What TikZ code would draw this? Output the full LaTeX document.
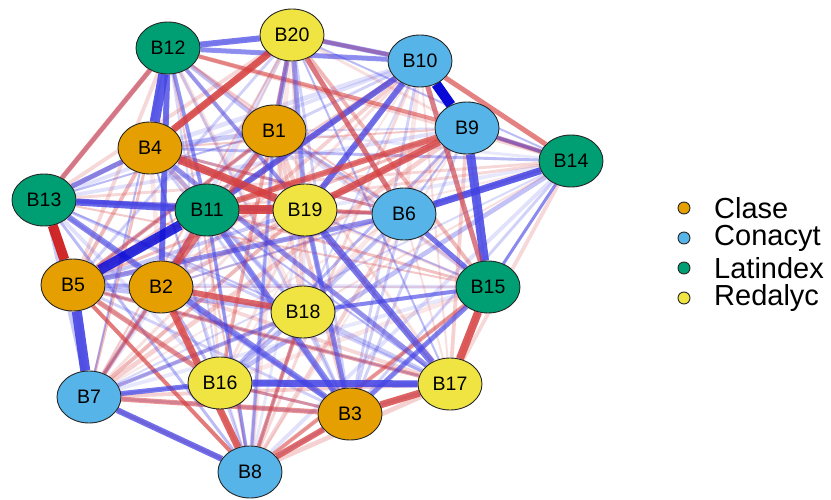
\documentclass[tikz,border=0pt]{standalone}
\usepackage{fontspec}
\setmainfont{Liberation Sans}
\usetikzlibrary{shapes.geometric,backgrounds}
\definecolor{clase}{HTML}{E69F00}
\definecolor{conacyt}{HTML}{56B4E9}
\definecolor{latindex}{HTML}{009E73}
\definecolor{redalyc}{HTML}{F0E442}
\definecolor{redE}{RGB}{214,62,62}
\definecolor{redD}{RGB}{205,30,30}
\definecolor{blueE}{RGB}{66,66,228}
\definecolor{blueD}{RGB}{10,10,215}
\tikzset{
  nd/.style={ellipse, draw=black!85, line width=0.9pt, minimum width=64pt, minimum height=52pt, inner sep=0pt, font=\fontsize{19.5}{19.5}\selectfont},
  cl/.style={nd, fill=clase},
  co/.style={nd, fill=conacyt},
  la/.style={nd, fill=latindex},
  re/.style={nd, fill=redalyc},
  lgdot/.style={circle, draw=black!85, line width=0.9pt, minimum size=12pt, inner sep=0pt},
  lgtext/.style={anchor=west, inner sep=0pt, font=\fontsize{29}{29}\selectfont},
}
\begin{document}
\begin{tikzpicture}[x=1pt,y=-1pt]
\useasboundingbox (0,0) rectangle (831,500);
% nodes
\node[la] (B12) at (168,48) {B12};
\node[re] (B20) at (292,35) {B20};
\node[co] (B10) at (420,61) {B10};
\node[cl] (B1) at (274,131) {B1};
\node[cl] (B4) at (150,148) {B4};
\node[co] (B9) at (467,128) {B9};
\node[la] (B14) at (571,161) {B14};
\node[la] (B13) at (44,200) {B13};
\node[la] (B11) at (207,210) {B11};
\node[re] (B19) at (305,210) {B19};
\node[co] (B6) at (404,214) {B6};
\node[cl] (B5) at (73,285) {B5};
\node[cl] (B2) at (161,287) {B2};
\node[re] (B18) at (303,312) {B18};
\node[la] (B15) at (488,287) {B15};
\node[re] (B16) at (220,383) {B16};
\node[re] (B17) at (450,384) {B17};
\node[co] (B7) at (89,397) {B7};
\node[cl] (B3) at (350,414) {B3};
\node[co] (B8) at (250,472) {B8};
% edges
\begin{pgfonlayer}{background}
\foreach \i in {1,...,19}{
  \pgfmathtruncatemacro{\js}{\i+1}
  \foreach \j in {\js,...,20}{
    \pgfmathtruncatemacro{\h}{mod(\i*\i*7+\j*13+\i*\j*11,23)}
    \pgfmathsetmacro{\op}{0.12+0.04*mod(\h,7)}
    \pgfmathsetmacro{\lw}{2+0.9*mod(\h,4)}
    \ifnum\h<11 \def\ec{redE}\else\def\ec{blueE}\fi
    \draw[line width=\lw pt, draw=\ec, draw opacity=\op] (B\i) -- (B\j);
  }
}
\foreach \a/\b/\c/\w/\o in {
  B12/B9/redE/4/0.45, B20/B10/redE/4/0.45, B9/B14/redE/4/0.5,
  B17/B5/redE/4/0.45, B15/B8/redE/4/0.5, B18/B8/redE/4/0.55,
  B5/B8/redE/4/0.5, B1/B5/redE/4/0.5, B7/B2/redE/4/0.5,
  B6/B19/redE/4/0.5, B3/B16/redE/3/0.45, B4/B6/redE/3/0.4,
  B7/B18/blueE/4/0.45, B14/B9/blueE/3/0.45, B14/B15/blueE/3/0.4,
  B12/B19/blueE/4/0.45, B13/B19/blueE/4/0.5, B18/B15/blueE/4/0.5,
  B8/B11/blueE/3/0.4, B8/B1/blueE/3/0.4, B12/B11/blueE/4/0.45,
  B20/B1/blueE/5/0.5, B20/B19/blueE/5/0.45, B12/B10/blueE/5/0.55,
  B20/B10/blueE/5/0.5, B13/B4/blueE/5/0.6, B13/B3/blueE/6/0.6,
  B3/B11/blueE/6/0.6, B3/B19/blueE/5/0.55, B4/B17/blueE/5/0.55,
  B15/B3/blueE/5/0.6, B6/B15/blueE/5/0.6, B5/B6/blueE/5/0.55,
  B7/B16/blueE/5/0.7, B7/B8/blueE/6/0.75, B12/B20/blueE/6/0.7,
  B10/B11/blueE/6/0.75, B10/B19/blueE/6/0.75, B19/B17/blueE/7/0.7,
  B12/B2/blueE/6/0.7, B13/B11/blueE/7/0.8, B16/B17/blueE/7/0.85,
  B14/B6/blueE/7/0.85, B9/B15/blueE/9/0.85, B5/B7/blueE/10/0.9,
  B12/B4/blueE/10/0.85, B11/B5/blueD/10/0.85, B10/B9/blueD/10/1,
  B20/B6/redE/5/0.65, B13/B12/redE/5/0.6, B10/B14/redE/5/0.6,
  B10/B15/redE/5/0.6, B7/B3/redE/5/0.55, B5/B16/redE/5/0.55,
  B1/B2/redE/5/0.6, B8/B3/redE/6/0.75, B2/B18/redE/6/0.75,
  B11/B2/redE/6/0.75, B9/B11/redE/6/0.7, B9/B19/redE/7/0.8,
  B2/B8/redE/7/0.8, B17/B3/redE/7/0.8, B20/B4/redE/7/0.85,
  B15/B17/redE/8/0.85, B4/B19/redE/8/0.85, B11/B19/redE/9/0.9,
  B13/B5/redD/10/0.95}{
  \draw[line width=\w pt, draw=\c, draw opacity=\o] (\a) -- (\b);
}
\end{pgfonlayer}
% legend
\node[lgdot, fill=clase] (L1) at (684,208) {};
\node[lgdot, fill=conacyt] (L2) at (684,238) {};
\node[lgdot, fill=latindex] (L3) at (684,268) {};
\node[lgdot, fill=redalyc] (L4) at (684,298) {};
\node[lgtext] (T1) at (714,208) {Clase};
\node[lgtext] (T2) at (714,238) {Conacyt};
\node[lgtext] (T3) at (714,268) {Latindex};
\node[lgtext] (T4) at (714,298) {Redalyc};
\end{tikzpicture}
\end{document}
